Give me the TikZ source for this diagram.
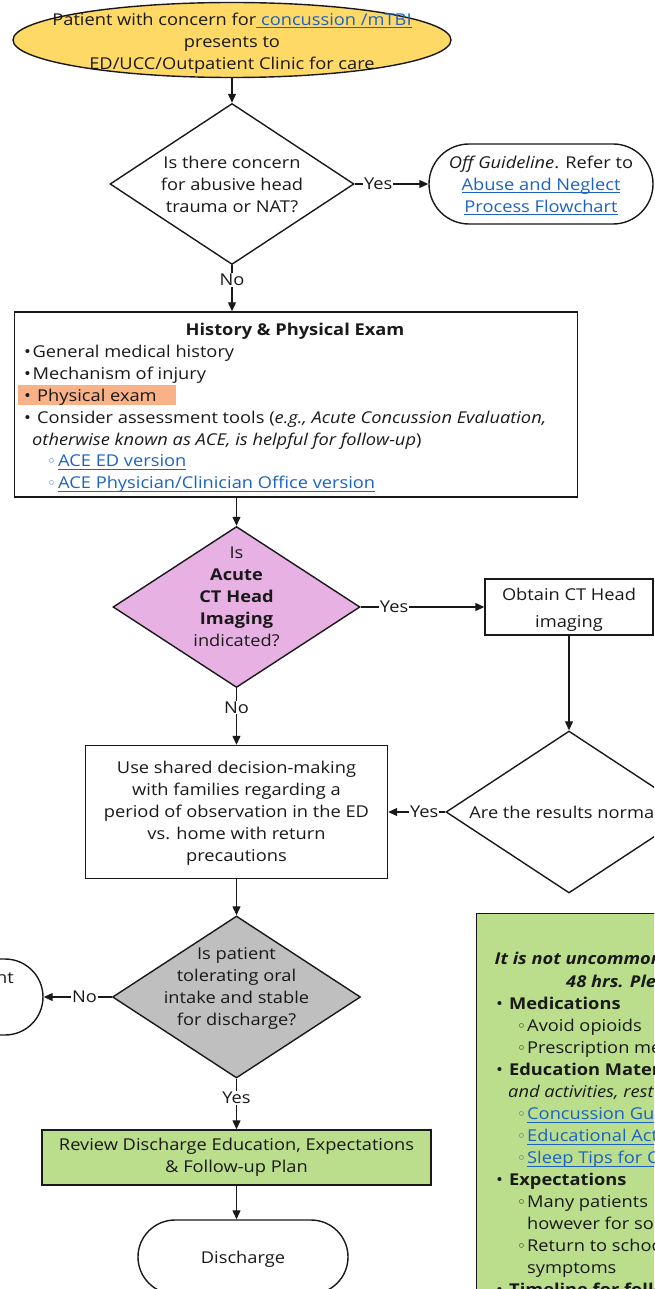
\documentclass[tikz,border=0pt]{standalone}
\usepackage{fontspec}
\setmainfont{Open Sans}[FakeStretch=1.12]
\newfontfamily\symfont{DejaVu Sans}
\usetikzlibrary{shapes.geometric,arrows.meta}
\definecolor{ylw}{RGB}{255,217,102}
\definecolor{pnk}{RGB}{231,177,228}
\definecolor{gry}{RGB}{191,191,191}
\definecolor{grn}{RGB}{187,222,140}
\definecolor{org}{RGB}{249,178,136}
\definecolor{linkblue}{RGB}{28,98,196}
\definecolor{ink}{RGB}{25,25,25}
\newcommand\hlink[1]{\textcolor{linkblue}{\setbox0=\hbox{#1}\rlap{\rule[-2.6pt]{\wd0}{0.9pt}}\box0}}
\newcommand\bul[1]{\makebox[#1][l]{•}}
\newcommand\wbul[1]{\makebox[#1][l]{\symfont\fontsize{15}{22}\selectfont ◦}}
\newcommand\wbulb[1]{\textcolor{linkblue}{\wbul{#1}}}
\begin{document}
\begin{tikzpicture}[x=1pt,y=-1pt,
  every node/.style={font=\fontsize{16.3}{22}\selectfont, text=ink},
  txt/.style={inner sep=0pt, align=center, yshift=-2.5pt, execute at begin node=\strut, execute at end node=\strut},
  ln/.style={inner sep=0pt, anchor=west, yshift=-2.5pt, execute at begin node=\strut},
  shp/.style={draw=ink, line width=1.4pt, inner sep=0pt},
  box/.style={shp, rectangle},
  dia/.style={shp, diamond},
  oval/.style={shp, ellipse},
  term/.style={shp, rectangle, rounded corners=#1},
  arr/.style={draw=ink, line width=1.2pt, -{Triangle[length=9pt,width=8pt]}},
  lbl/.style={fill=white, inner sep=1pt}]
\useasboundingbox (0,0) rectangle (654,1289);
\clip (0,0) rectangle (654,1289);

% start
\node[oval, fill=ylw, minimum width=438, minimum height=75] (start) at (232,40) {};
\node[txt] (startT) at (232,42) {Patient with concern for\hlink{\ concussion /mTBI}\\presents to\\ED/UCC/Outpatient Clinic for care};

% question 1
\node[dia, fill=white, minimum width=244, minimum height=161] (q1) at (232,184) {};
\node[txt] (q1T) at (232,185) {Is there concern\\for abusive head\\trauma or NAT?};

\node[term=40, minimum width=224, minimum height=80] (off) at (541,184) {};
\node[txt] (offT) at (541,185) {\textit{Off Guideline}. Refer to\\\hlink{Abuse and Neglect}\\\hlink{Process Flowchart}};

% history box
\node[box, minimum width=563, minimum height=185] (hist) at (296,404.5) {};
\fill[org] (17.5,385) rectangle (176,405);
\node[txt] (hT) at (295,329) {\textbf{History \& Physical Exam}};
\node[ln] (h1) at (24,351) {\bul{8.5pt}General medical history};
\node[ln] (h2) at (24,373) {\bul{8.5pt}Mechanism of injury};
\node[ln] (h3) at (24,395) {\bul{13pt}Physical exam};
\node[ln] (h4) at (24,417) {\bul{13pt}Consider assessment tools (\textit{e.g., Acute Concussion Evaluation,}};
\node[ln] (h5) at (32,438.5) {\textit{otherwise known as ACE, is helpful for follow-up})};
\node[ln] (h6) at (47,460) {\wbulb{11pt}\hlink{ACE ED version}};
\node[ln] (h7) at (47,482) {\wbulb{11pt}\hlink{ACE Physician/Clinician Office version}};

% question 2
\node[dia, fill=pnk, minimum width=247, minimum height=161] (q2) at (236.5,607) {};
\node[txt] (q2T) at (236.5,597) {Is\\\textbf{Acute}\\\textbf{CT Head}\\\textbf{Imaging}\\indicated?};

\node[box, minimum width=168, minimum height=56] (ct) at (569,607) {};
\node[txt] (ctT) at (569,608.5) {Obtain CT Head\\[5pt]imaging};

% question 3
\node[dia, minimum width=246, minimum height=162] (q3) at (569,812) {};
\node[txt] (q3T) at (568,812) {Are the results normal?};

\node[box, minimum width=302, minimum height=133] (obs) at (236.5,812) {};
\node[txt] (obsT) at (236.5,812) {Use shared decision-making\\with families regarding a\\period of observation in the ED\\vs. home with return\\precautions};

% question 4
\node[dia, fill=gry, minimum width=248, minimum height=162] (q4) at (236.5,997) {};
\node[txt] (q4T) at (236.5,987.5) {Is patient\\tolerating oral\\intake and stable\\for discharge?};

\node[term=38, minimum width=200, minimum height=76] (adm) at (-57,997) {};
\node[ln, anchor=east] (admT) at (14,977) {nt};

\node[box, fill=grn, minimum width=389, minimum height=55] (rev) at (236.5,1157.5) {};
\node[txt] (revT) at (236.5,1156.5) {Review Discharge Education, Expectations\\\& Follow-up Plan};

\node[term=37, minimum width=210, minimum height=74] (dis) at (243,1257) {};
\node[txt] (disT) at (243,1257) {Discharge};

% note box
\node[box, fill=grn, minimum width=300, minimum height=500, anchor=north west] (note) at (476,913) {};
\node[ln] (g1) at (494.5,958) {\textbf{\textit{It is not uncommon}}};
\node[ln] (g2) at (566,981) {\textbf{\textit{48 hrs. Please}}};
\node[ln] (g3) at (496,1003) {\bul{13pt}\textbf{Medications}};
\node[ln] (g4) at (517,1025) {\wbul{10pt}Avoid opioids};
\node[ln] (g5) at (517,1047) {\wbul{10pt}Prescription me};
\node[ln] (g6) at (496,1069) {\bul{13pt}\textbf{Education Materials}};
\node[ln] (g7) at (508,1091) {\textit{and activities, rest}};
\node[ln] (g8) at (517,1113) {\wbulb{10pt}\hlink{Concussion Guide}};
\node[ln] (g9) at (517,1135) {\wbulb{10pt}\hlink{Educational Act}};
\node[ln] (g10) at (517,1157) {\wbulb{10pt}\hlink{Sleep Tips for Ch}};
\node[ln] (g11) at (496,1179) {\bul{13pt}\textbf{Expectations}};
\node[ln] (g12) at (517,1201) {\wbul{10pt}Many patients};
\node[ln] (g13) at (527,1223) {however for some};
\node[ln] (g14) at (517,1245) {\wbul{10pt}Return to school};
\node[ln] (g15) at (527,1267) {symptoms};
\node[ln] (g16) at (496,1289) {\bul{13pt}\textbf{Timeline for follow}};

% connectors
\draw[arr] (start) -- (q1);
\draw[arr] (q1.east) -- node[lbl,pos=.32]{Yes} (off.west);
\draw[arr] (q1.south) -- node[lbl,pos=.32]{No} (q1.south |- hist.north);
\draw[arr] (hist.south -| q2.north) -- (q2.north);
\draw[arr] (q2.east) -- node[lbl,pos=.27]{Yes} (ct.west);
\draw[arr] (ct.south) -- (q3.north);
\draw[arr] (q3.west) -- node[lbl,pos=.37]{Yes} (obs.east);
\draw[arr] (q2.south) -- node[lbl,pos=.34]{No} (obs.north);
\draw[arr] (obs.south) -- (q4.north);
\draw[arr] (q4.west) -- node[lbl,pos=.4]{No} (adm.east);
\draw[arr] (q4.south) -- node[lbl,pos=.38]{Yes} (rev.north);
\draw[arr] (rev.south) -- (rev.south |- dis.north);
\end{tikzpicture}
\end{document}
